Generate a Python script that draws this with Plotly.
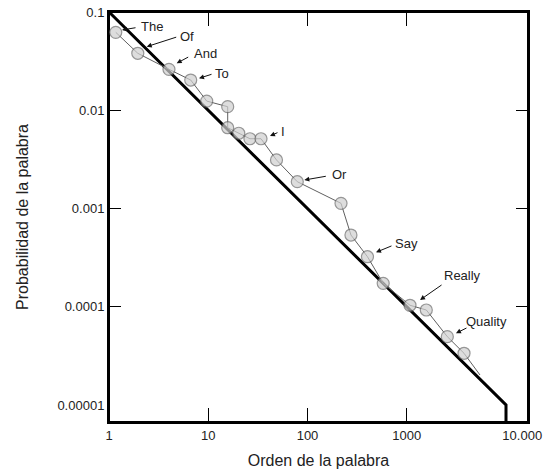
import plotly.graph_objects as go

# ---- data ----
rank = [1.17, 1.95, 4.02, 6.66, 9.65, 15.7, 15.7, 20.3, 26.3, 34.0, 48.7, 78.9,
        217.6, 274, 402, 579, 1078, 1574, 2563, 3776, 5470]
prob = [0.0621, 0.0380, 0.0261, 0.0203, 0.0124, 0.01087, 0.00664, 0.00583, 0.00513,
        0.00513, 0.00312, 0.001874, 0.001129, 0.000537, 0.000323, 0.000173,
        0.0001035, 0.0000927, 0.0000496, 0.0000336, 0.0000202]
marker_shown = [True] * 20 + [False]

zipf_x = [1, 10000, 10000]
zipf_y = [0.1, 0.00001, 0.0000067]

x_tickvals = [1, 10, 100, 1000, 10000]
x_ticktext = ["1", "10", "100", "1000", "\u00a0" * 9 + "10.000"]
x_tickmarks = [10, 100, 1000]
y_tickvals = [0.1, 0.01, 0.001, 0.0001, 0.00001]
y_ticktext = ["0.1", "0.01", "0.001", "0.0001", "0.00001"]
y_tickmarks = [0.01, 0.001, 0.0001]

# word labels: (text, text position [log10 x, log10 y], arrow head [log10 x, log10 y], tail offset px)
labels = ["The", "Of", "And", "To", "I", "Or", "Say", "Really", "Quality"]
label_pos = [(0.430, -1.150), (0.786, -1.251), (0.977, -1.420), (1.136, -1.624),
             (1.756, -2.218), (2.327, -2.649), (3.000, -3.354), (3.560, -3.677),
             (3.806, -4.145)]
arrow_head = [(0.131, -1.183), (0.380, -1.353), (0.682, -1.522), (0.907, -1.675),
              (1.622, -2.262), (1.968, -2.710), (2.690, -3.446), (3.134, -3.931),
              (3.496, -4.270)]
arrow_off = [(15, -2.5), (31, -10), (13, -7), (14, -4.5), (9, -4), (23, -4),
             (17, -7), (23, -16), (12, -6)]

FONT = "Liberation Sans, Arial, sans-serif"
XR = [0, 4.2217]
YR = [-5.173, -1]

# plot frame following the axis ranges
fx0, fx1 = 10 ** XR[0], 10 ** XR[1]
fy0, fy1 = 10 ** YR[0], 10 ** YR[1]

fig = go.Figure()
fig.add_trace(go.Scatter(
    x=[fx0, fx1, fx1, fx0, fx0], y=[fy0, fy0, fy1, fy1, fy0], mode="lines",
    line=dict(color="black", width=2), cliponaxis=False,
    hoverinfo="skip", showlegend=False))
fig.add_trace(go.Scatter(
    x=zipf_x, y=zipf_y, mode="lines",
    line=dict(color="black", width=3), hoverinfo="skip", showlegend=False))
fig.add_trace(go.Scatter(
    x=rank, y=prob, mode="lines+markers",
    line=dict(color="#606060", width=1),
    marker=dict(size=[12 if m else 0 for m in marker_shown], color="#d0d0d0",
                line=dict(color="#6a6a6a", width=1.2)),
    cliponaxis=False, showlegend=False))

ann = []
for t, (tx, ty), (hx, hy), (ox, oy) in zip(labels, label_pos, arrow_head, arrow_off):
    ann.append(dict(x=hx, y=hy, xref="x", yref="y", text="", showarrow=True,
                    ax=ox, ay=oy, arrowhead=2, arrowsize=1, arrowwidth=1,
                    arrowcolor="#111", standoff=0, startstandoff=0))
    ann.append(dict(x=tx, y=ty, xref="x", yref="y", text=t, showarrow=False,
                    font=dict(family=FONT, size=13, color="#222")))

fig.update_layout(
    width=545, height=474,
    margin=dict(l=109, r=17, t=12, b=52, autoexpand=False),
    paper_bgcolor="white", plot_bgcolor="white",
    font=dict(family=FONT, color="#222"),
    annotations=ann,
    xaxis=dict(type="log", range=XR, tickmode="array",
               tickvals=x_tickvals, ticktext=x_ticktext, ticks="",
               minor=dict(tickmode="array", tickvals=x_tickmarks, ticks="inside",
                          ticklen=14, tickwidth=1, tickcolor="black", showgrid=False),
               tickfont=dict(family=FONT, size=13, color="#222"),
               showline=True, linecolor="black", linewidth=2, mirror="ticks",
               showgrid=False, zeroline=False, automargin=False,
               title=dict(text="Orden de la palabra", standoff=13,
                          font=dict(family=FONT, size=16, color="#222"))),
    yaxis=dict(type="log", range=YR, tickmode="array",
               tickvals=y_tickvals, ticktext=y_ticktext, ticks="",
               minor=dict(tickmode="array", tickvals=y_tickmarks, ticks="inside",
                          ticklen=12, tickwidth=1, tickcolor="black", showgrid=False),
               tickfont=dict(family=FONT, size=13, color="#222"),
               showline=True, linecolor="black", linewidth=2, mirror="ticks",
               showgrid=False, zeroline=False, automargin=False,
               title=dict(text="Probabilidad de la palabra", standoff=25,
                          font=dict(family=FONT, size=16, color="#222"))),
)

fig.write_html("out.html", config={"displayModeBar": False},
               post_script="document.body.style.margin='0';document.body.style.overflow='hidden';")
